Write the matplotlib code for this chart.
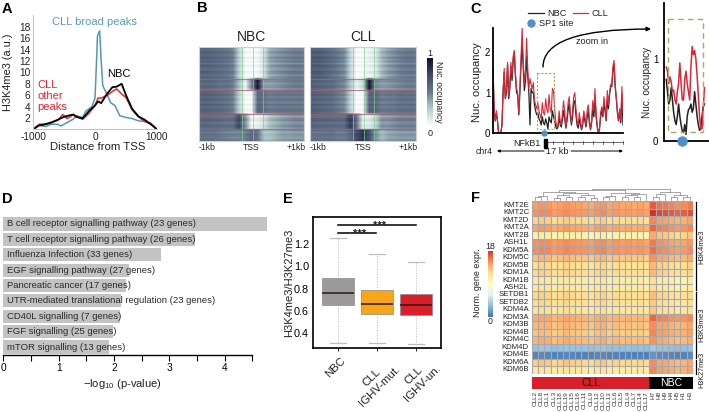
#!/usr/bin/env python
# -*- coding: utf-8 -*-
import numpy as np
import matplotlib
matplotlib.use('Agg')
import matplotlib.pyplot as plt
from matplotlib.colors import LinearSegmentedColormap
from matplotlib.patches import FancyArrowPatch, Rectangle

# --- Data --- #

# A: H3K4me3 profiles around the TSS
a_blue_x = [-1000,-950,-900,-800,-700,-600,-550,-450,-350,-300,-200,-150,-50,0,25,40,75,100,125,200,250,320,400,500,600,700,800,900,1000]
a_blue_y = [0,0.5,0.7,0.5,0.9,0.9,0.6,1.2,1.8,2.4,2.1,3.2,4,5.5,12,16.4,17.3,12,7.7,6,4.7,4.2,2.4,2.1,1.9,1.5,1.4,1.1,0]
a_black_x = [-1000,-900,-800,-700,-600,-500,-400,-350,-300,-200,-100,0,50,100,150,200,280,350,430,500,600,700,800,900,1000]
a_black_y = [0,0.7,0.9,1.2,1.7,2.2,2.5,2.6,2.2,1.9,3.2,4.2,4.9,4.6,5.5,6.3,7.4,7.5,8,6,3.6,2.3,1.7,0.9,0]
a_red_x = [-1000,-900,-800,-700,-600,-520,-450,-350,-300,-200,-100,0,50,100,200,300,350,430,500,600,700,800,900,1000]
a_red_y = [0,0.9,0.9,1.3,1.6,2.6,1.9,2.6,2.3,1.8,2.8,4.2,5.5,5.5,6,6.8,7.1,6.2,5.6,3.4,2.2,1.4,1.0,0]

# B: heatmap blocks, one column profile per block (0 white, 1 dark)
b_block_rows = [16, 6, 12, 8, 6]
b_nbc = [
    [.62,.62,.60,.58,.55,.50,.24,.04,.02,.04,.16,.38,.42,.45,.48,.50,.50],
    [.60,.60,.58,.55,.55,.50,.30,.06,.45,.95,.40,.40,.42,.45,.48,.50,.50],
    [.62,.62,.60,.58,.55,.50,.24,.03,.03,.60,.55,.50,.52,.52,.52,.52,.52],
    [.60,.60,.58,.58,.55,.55,.75,.45,.06,.08,.16,.30,.35,.40,.42,.45,.45],
    [.55,.55,.55,.52,.50,.48,.48,.50,.60,.55,.30,.30,.35,.40,.40,.42,.42],
]
b_cll = [
    [.66,.66,.62,.58,.52,.46,.22,.02,.02,.08,.12,.32,.40,.45,.50,.52,.52],
    [.64,.62,.60,.58,.52,.46,.28,.08,.20,.98,.45,.40,.42,.45,.48,.50,.50],
    [.64,.62,.60,.58,.52,.46,.24,.01,.03,.62,.60,.50,.52,.52,.55,.55,.55],
    [.62,.60,.60,.58,.58,.58,.80,.55,.08,.12,.22,.42,.42,.45,.48,.48,.48],
    [.55,.55,.55,.55,.52,.52,.60,.75,.85,.72,.45,.32,.38,.40,.42,.42,.42],
]
b_streak = [.02,-.05,.04,.0,-.03,.06,-.02,.03,-.06,.05,.0,-.04,.04,.02,-.05,.03,-.02,
            .05,-.03,.0,.04,-.06,.02,-.02,.05,-.04,.03,.0,-.05,.06,-.03,.02,.04,-.02,
            .03,-.06,.02,.05,-.04,.0,.04,-.03,.05,-.05,.02,.0,-.03,.04]

# C: nucleosome occupancy, whole locus
c_cll = [1.65,0.6,0.3,0.55,0.3,0,0,0,0.2,1.05,1.6,0.85,1.1,1.75,0.9,1.2,1.75,1.4,1.9,2.05,
         1.5,1.1,1.0,0.5,1.15,1.9,2.6,1.8,1.2,1.55,2.35,1.6,1.1,1.35,1.2,1.1,1.25,0.8,0.7,0.6,
         0.75,0.55,0.45,0.35,0.75,0.5,0.45,0.85,0.6,0.5,0.95,0.6,0.5,1.1,1.05,0.6,0.3,0.15,0.2,0.55,
         0.3,0.2,0.5,0.8,0.5,0.15,0.4,0.75,0.9,0.5,0.25,0.55,0.9,1.0,0.6,0.3,0.2,0.5,0.3,0.1,
         0.25,0.55,0.4,0.2,0.55,0.7,0.35,0.1,0.3,0.8,0.55,1.1,0.5,0.2,0,0.1,0.5,0.65,0.45,0.9,
         0.65,0.35,1.05,0.7,1.0,1.2,1.2,1.65,1.8,1.2,0.9,0.55,0.3,0.6,0.3,1.15,0.5]
c_nbc = [1.6,0.55,0.3,0.5,0.3,0,0,0,0.2,1.0,1.5,0.85,1.0,1.7,0.85,1.1,1.65,1.3,1.8,2.0,
         1.4,1.0,0.95,0.45,1.0,1.7,2.2,1.6,1.05,1.3,1.9,1.4,1.0,0.2,1.1,1.0,1.0,0.7,0.55,0.45,
         0.5,0.35,0.3,0.2,0.4,0.25,0.2,0.35,0.25,0.1,0.4,0.3,0.25,0.55,0.4,0.3,0.15,0.1,0.15,0.4,
         0.2,0.15,0.35,0.55,0.35,0.12,0.3,0.55,0.75,0.4,0.2,0.4,0.75,0.8,0.45,0.2,0.12,0.35,0.2,0.08,
         0.2,0.45,0.3,0.15,0.4,0.55,0.25,0.08,0.25,0.6,0.4,0.85,0.4,0.15,0,0.08,0.4,0.55,0.4,0.75,
         0.55,0.3,0.85,0.6,0.95,1.15,1.15,1.55,1.7,1.15,0.85,0.5,0.3,0.55,0.25,0.95,0.2]

# C: zoomed region
z_cll = [0.9,0.85,0.7,0.78,0.72,0.6,0.62,0.5,0.45,0.6,0.7,0.95,0.7,0.5,0.5,0.75,0.85,0.7,0.6,0.5,
         0.9,1.15,1.05,1.1,1.0,0.8,0.55,0.3,0.15,0.15,0.4,0.65]
z_nbc = [0.75,0.6,0.45,0.5,0.65,0.5,0.35,0.25,0.2,0.3,0.45,0.3,0.2,0.12,0.1,0.2,0.08,0.3,0.38,0.4,
         0.45,0.35,0.4,0.6,0.45,0.3,0.2,0.13,0.15,0.3,0.42,0.45]

# D: pathway enrichment
d_labels = ['B cell receptor signalling pathway (23 genes)',
            'T cell receptor signalling pathway (26 genes)',
            'Influenza Infection (33 genes)',
            'EGF signalling pathway (27 genes)',
            'Pancreatic cancer (17 genes)',
            'UTR-mediated translational regulation (23 genes)',
            'CD40L signalling (7 genes)',
            'FGF signalling (25 genes)',
            'mTOR signalling (13 genes)']
d_values = [4.76, 3.46, 2.86, 2.27, 2.22, 2.12, 2.11, 1.99, 1.91]

# E: box plot statistics
e_labels = ['NBC', 'CLL\nIGHV-mut.', 'CLL\nIGHV-un.']
e_low = [0.31, 0.31, 0.30]
e_q1 = [0.65, 0.575, 0.565]
e_med = [0.76, 0.665, 0.65]
e_q3 = [0.89, 0.79, 0.75]
e_high = [1.25, 1.11, 1.035]
e_colors = ['#9a9a9a', '#f9a51a', '#d81f2a']

# F: normalised expression per gene
f_genes = ['KMT2E','KMT2C','KMT2D','KMT2A','KMT2B','ASH1L','KDM5A','KDM5C','KDM5B','KDM1A','KDM1B','ASH2L',
           'SETDB1','SETDB2','KDM4A','KDM3A','KDM3B','KDM4B','KDM4C','KDM4D','KDM4E','KDM6A','KDM6B']
f_samples = ['CLL2','CLL8','CLL1','CLL3','CLL18','CLL19','CLL15','CLL16','CLL11','CLL9','CLL12','CLL10','CLL13',
             'CLL6','CLL5','CLL4','CLL7','CLL14','CLL17','H7','H8','H9','H4','H5','H1','H3']
f_cll_level = [14.2,14.6,12.2,14.0,10.2,14.6,14.8,13.0,11.8,12.0,10.8,11.0,
               12.0,11.8,11.4,13.6,13.2,12.8,13.4,3.2,0.6,12.4,11.0]
f_nbc_level = [15.4,16.8,14.0,15.0,12.6,14.4,14.8,13.6,12.2,12.2,10.6,10.8,
               12.0,11.6,11.6,15.0,13.8,14.0,13.6,3.2,0.8,13.8,14.0]
f_cll_shift = [0.2,0.5,0.4,-0.2,0.1,0.5,0.2,0.0,-0.1,-0.3,0.3,0.5,-0.2,0.1,-0.2,0.0,-0.3,-0.1,-0.4]
f_nbc_shift = [1.2,0.4,0.2,-0.2,-0.5,-0.3,0.2]


# --- Helpers --- #

W, H = 709, 412
plt.rcParams['font.family'] = ['Liberation Sans', 'DejaVu Sans']
plt.rcParams['mathtext.fontset'] = 'custom'
plt.rcParams['mathtext.rm'] = 'Liberation Sans'
plt.rcParams['text.color'] = '#222222'
plt.rcParams['axes.unicode_minus'] = False
fig = plt.figure(figsize=(W/100, H/100), dpi=100)

def pxAxes(left, top, right, bottom):
    return fig.add_axes([left/W, 1-bottom/H, (right-left)/W, (bottom-top)/H])

# full figure overlay in pixel coordinates, for notes and decorations
over = fig.add_axes([0, 0, 1, 1], zorder=10)
over.set_xlim(0, W)
over.set_ylim(H, 0)
over.axis('off')

def note(x, y, s, size=7, ha='center', va='center', **kw):
    over.text(x, y, s, fontsize=size, ha=ha, va=va, **kw)

for letter, lx, ly in [('A',7,9), ('B',202,8), ('C',476,9), ('D',7,199), ('E',288,199), ('F',475,198)]:
    note(lx, ly, letter, size=10.5, fontweight='bold', color='black')


# --- A --- #

ax = pxAxes(33, 15.4, 157, 129.4)
ax.plot(a_blue_x, a_blue_y, color='#5596b5', lw=1.1)
ax.plot(a_red_x, a_red_y, color='#e2363e', lw=1.2)
ax.plot(a_black_x, a_black_y, color='black', lw=1.3)
ax.set_xlim(-1000, 1000)
ax.set_ylim(0, 20)
ax.set_yticks(range(2, 20, 2))
ax.set_xticks([-1000, 0, 1000])
ax.tick_params(length=0, labelsize=7.3, pad=2, colors='#222222')
ax.spines[['top', 'right']].set_visible(False)
ax.spines[['left', 'bottom']].set_color('#c4c4c4')
ax.patch.set_alpha(0)
note(8, 72, 'H3K4me3 (a.u.)', size=7.9, rotation=90)
note(98, 147, 'Distance from TSS', size=8.2)
note(94, 22, 'CLL broad peaks', size=8, color='#5a9ab8')
note(119, 74, 'NBC', size=8, color='black')
note(37, 96, 'CLL\nother\npeaks', size=8, color='#e2262e', ha='left', linespacing=1.15)


# --- B --- #

b_cmap = LinearSegmentedColormap.from_list('nuc', ['#ffffff', '#b8d2cf', '#6b7b8f', '#414c6a', '#10102a'])

def blockMatrix(blocks):
    rows = []
    for prof, n in zip(blocks, b_block_rows):
        rows += [prof]*n
    return np.array(rows) + np.array(b_streak)[:, None]

for blocks, l, r, title in [(b_nbc, 199, 304, 'NBC'), (b_cll, 310, 416, 'CLL')]:
    ax = pxAxes(l, 47, r, 141)
    ax.imshow(blockMatrix(blocks), aspect='auto', cmap=b_cmap, vmin=0, vmax=1,
              interpolation='bilinear', extent=[0, 1, 1, 0])
    for fx in [0.41, 0.51, 0.605]:
        ax.axvline(fx, color='#7ccf90', lw=0.6, alpha=0.8)
    for fy in [0.343, 0.459, 0.717, 0.873]:
        ax.axhline(fy, color='#a8606e', lw=0.8, alpha=0.75)
    ax.set_xticks([])
    ax.set_yticks([])
    for s in ax.spines.values():
        s.set_color('#d0d0d0')
    mid = (l + r)/2
    note(mid, 37, title, size=10)
    note(l + 8, 148, '-1kb', size=6.2)
    note(mid, 148, 'TSS', size=6.2)
    note(r - 8, 148, '+1kb', size=6.2)

ax = pxAxes(427, 58, 433, 127)
ax.imshow(np.linspace(1, 0, 100)[:, None], aspect='auto', cmap=b_cmap, vmin=0, vmax=1)
ax.axis('off')
note(430, 53, '1', size=6.5)
note(430, 133, '0', size=6.5)
note(439, 92, 'Nuc. occupancy', size=6.2, rotation=270)


# --- C --- #

ax = pxAxes(493, 28, 623, 133)
ax.plot(np.linspace(0, 17, len(c_nbc)), c_nbc, color='#222222', lw=0.9)
ax.plot(np.linspace(0, 17, len(c_cll)), c_cll, color='#d8293a', lw=0.8)
ax.set_xlim(0, 17)
ax.set_ylim(0, 2.6)
ax.set_yticks([0, 1, 2])
ax.set_xticks([])
ax.tick_params(length=0, labelsize=7, pad=2)
ax.spines[['top', 'right']].set_visible(False)
ax.spines[['left', 'bottom']].set_linewidth(1.3)
ax.patch.set_alpha(0)
note(477, 82, 'Nuc. occupancy', size=8, rotation=90)

ax = pxAxes(664, 3, 709, 141)
ax.plot(np.linspace(0.05, 0.9, len(z_nbc)), z_nbc, color='#222222', lw=1.1)
ax.plot(np.linspace(0.05, 0.9, len(z_cll)), z_cll, color='#d8293a', lw=1.1)
ax.set_xlim(0, 1)
ax.set_ylim(0, 1.68)
ax.set_yticks([0, 1])
ax.set_xticks([])
ax.tick_params(length=0, labelsize=7, pad=4)
ax.spines[['top', 'right']].set_visible(False)
ax.spines[['left', 'bottom']].set_linewidth(1.3)
ax.patch.set_alpha(0)
note(647, 82, 'Nuc. occupancy', size=7.2, rotation=90)

box_col = '#a8a868'
over.add_patch(Rectangle((537, 73), 17, 56, fill=False, ec=box_col, ls=(0, (2, 1.5)), lw=0.8))
over.add_patch(Rectangle((668, 19), 34.5, 113, fill=False, ec=box_col, ls=(0, (4, 3)), lw=1.0))
over.plot([543.5], [133], 'o', color='#4f8fcb', ms=3.6, clip_on=False)
over.plot([682], [141], 'o', color='#4f8fcb', ms=6.5, clip_on=False)

over.plot([528, 544], [13, 13], color='#222222', lw=0.9)
note(547, 13, 'NBC', size=6.6, ha='left')
over.plot([573, 588], [13, 13], color='#d8293a', lw=0.9)
note(592, 13, 'CLL', size=6.6, ha='left')
over.plot([531], [23], 'o', color='#4f8fcb', ms=5)
note(539, 23, 'SP1 site', size=6.6, ha='left')
note(592, 41, 'zoom in', size=6.6)
over.add_patch(FancyArrowPatch((543, 67), (651, 29), connectionstyle='angle3,angleA=90,angleB=0',
                               arrowstyle='-|>', mutation_scale=6, color='black', lw=1.0, shrinkA=0, shrinkB=0))

note(527, 143, 'NFkB1', size=6.4, ha='center')
over.add_patch(Rectangle((544, 139), 3, 9, color='black'))
over.plot([547, 623], [142, 142], color='#333333', lw=0.5)
for tx in range(553, 624, 10):
    over.plot([tx, tx], [140.5, 143.5], color='#333333', lw=0.5)
note(484, 151, 'chr4', size=6.2)
note(557, 151, '17 kb', size=6.6)
for x0, x1 in [(544, 497), (571, 623)]:
    over.add_patch(FancyArrowPatch((x0, 151), (x1, 151), arrowstyle='-|>', mutation_scale=4,
                                   color='black', lw=0.7, shrinkA=0, shrinkB=0))


# --- D --- #

ax = pxAxes(3.3, 216, 268, 355)
ypos = np.arange(len(d_values))
ax.barh(ypos, d_values, height=0.85, color='#c3c3c3')
for yy, lab in zip(ypos, d_labels):
    ax.text(0.06, yy, lab, fontsize=6.8, va='center', ha='left', color='#2a2a2a')
ax.set_ylim(8.52, -0.52)
ax.set_xlim(0, 4.786)
ax.set_yticks([])
ax.set_xticks(range(5))
ax.set_xticks(np.arange(0.5, 4.6, 1), minor=True)
ax.tick_params(which='both', length=4, width=0.8, labelsize=7.3, pad=1.5)
ax.spines[['top', 'right', 'left']].set_visible(False)
ax.spines['bottom'].set_linewidth(1.0)
ax.spines['bottom'].set_bounds(0, 4.5)
ax.patch.set_alpha(0)
note(122, 384, r'$-\mathrm{log}_{10}$ (p-value)', size=8)


# --- E --- #

ax = pxAxes(313, 217, 441, 348)
stats = []
for i in range(3):
    stats.append(dict(whislo=e_low[i], q1=e_q1[i], med=e_med[i], q3=e_q3[i], whishi=e_high[i], fliers=[]))
bp = ax.bxp(stats, positions=[1, 2, 3], widths=0.81, patch_artist=True, showfliers=False,
            medianprops=dict(color='#2a1a10', lw=1.1),
            whiskerprops=dict(color='#b5b5b5', lw=0.7, ls=':'),
            capprops=dict(color='#bdbdbd', lw=0.9),
            boxprops=dict(edgecolor='#8a8a8a', lw=0.5))
for patch, col in zip(bp['boxes'], e_colors):
    patch.set_facecolor(col)
ax.plot([1, 1.98], [1.30, 1.30], color='black', lw=1.1)
ax.plot([1, 2.98], [1.37, 1.37], color='black', lw=1.1)
ax.text(1.54, 1.295, '***', ha='center', va='center', fontsize=8, fontweight='bold')
ax.text(2.06, 1.365, '***', ha='center', va='center', fontsize=8, fontweight='bold')
ax.set_xlim(0.362, 3.63)
ax.set_ylim(0.265, 1.443)
ax.set_yticks([0.4, 0.6, 0.8, 1.0, 1.2])
ax.set_xticks([1, 2, 3])
ax.set_xticklabels([])
ax.tick_params(axis='y', length=0, labelsize=7.8, pad=3)
ax.tick_params(axis='x', length=2, width=0.6)
for s in ax.spines.values():
    s.set_linewidth(1.2)
note(289, 283, 'H3K4me3/H3K27me3', size=8, rotation=90)
for cx, lab in zip([340, 387, 427], e_labels):
    note(cx, 355, lab, size=8.2, rotation=45, ha='right', va='top', rotation_mode='anchor', linespacing=1.25, multialignment='center')


# --- F --- #

f_cmap = LinearSegmentedColormap.from_list('expr', ['#4575b4', '#91bfdb', '#e0f3f8', '#ffffbf', '#fee090', '#fc8d59', '#d73027'])
matrix = np.zeros((len(f_genes), len(f_samples)))
for g in range(len(f_genes)):
    scale = 0.35 if g in (19, 20) else 1.0
    matrix[g, :19] = f_cll_level[g] + scale*np.array(f_cll_shift)
    matrix[g, 19:] = f_nbc_level[g] + scale*np.array(f_nbc_shift)

hx0, hx1, hy0, hy1 = 532, 692.7, 201.3, 373.7
ax = pxAxes(hx0, hy0, hx1, hy1)
ax.imshow(matrix, cmap=f_cmap, vmin=0, vmax=18, aspect='auto', interpolation='nearest',
          extent=[0, len(f_samples), len(f_genes), 0])
ax.vlines(range(len(f_samples)+1), 0, len(f_genes), color='#a8a8a8', lw=0.8)
ax.hlines(range(len(f_genes)+1), 0, len(f_samples), color='#a8a8a8', lw=0.8)
ax.set_ylim(len(f_genes), 0)
ax.set_xlim(0, len(f_samples))
ax.axis('off')
row_h = (hy1 - hy0)/len(f_genes)
col_w = (hx1 - hx0)/len(f_samples)
for g, name in enumerate(f_genes):
    note(529, hy0 + (g + 0.5)*row_h, name, size=5.6, ha='right')
for c, name in enumerate(f_samples):
    note(hx0 + (c + 0.5)*col_w, 391, name, size=4.6, rotation=90, va='top', color='#333333')

# group bar
ax = pxAxes(hx0, 376.7, hx1, 388.7)
ax.barh([0], [19], left=[0], height=1, color='#d81f2a')
ax.barh([0], [7], left=[19], height=1, color='black')
ax.text(9.5, 0, 'CLL', ha='center', va='center', fontsize=7.6, color='#3a1010')
ax.text(22.5, 0, 'NBC', ha='center', va='center', fontsize=7.6, color='white')
ax.set_xlim(0, 26)
ax.set_ylim(-0.5, 0.5)
ax.axis('off')

# column dendrogram, col index or (x, height) as children
def merge(a, b, h):
    pts = []
    for child in (a, b):
        if isinstance(child, tuple):
            pts.append(child)
        else:
            pts.append((hx0 + (child + 0.5)*col_w, 0))
    base = 200
    (xa, ha), (xb, hb) = pts
    over.plot([xa, xa, xb, xb], [base-ha, base-h, base-h, base-hb], color='#777777', lw=0.45)
    return ((xa + xb)/2, h)

n1 = merge(merge(0, 1, 3), 2, 4)
n2 = merge(merge(3, 4, 2.5), merge(5, 6, 3), 5)
n3 = merge(merge(7, 8, 3), merge(9, 10, 2.5), 5.5)
n4 = merge(merge(11, 12, 3), 13, 4.5)
n5 = merge(merge(14, 15, 3), merge(16, 17, 3.5), 5.5)
n6 = merge(n2, n3, 7.5)
n7 = merge(n1, n6, 8.5)
n8 = merge(n4, merge(n5, 18, 6.5), 7.5)
cll_top = merge(n7, n8, 10)
n9 = merge(merge(19, 20, 3.5), 21, 6)
n10 = merge(merge(22, 23, 3), merge(24, 25, 3.5), 5)
nbc_top = merge(n9, n10, 8)
merge(cll_top, nbc_top, 11)

# mark groups on the right
for y0, y1, lab, ly, sz in [(201.5, 290, 'H3K4me3', 247, 5.6), (292, 358, 'H3K9me3', 325, 5.6), (360, 373.5, 'H3K27me3', 370, 5.2)]:
    over.plot([695.7, 695.7], [y0, y1], color='black', lw=0.9)
    note(702, ly, lab, size=sz, rotation=90)

ax = pxAxes(488, 251, 492.5, 317)
ax.imshow(np.linspace(18, 0, 100)[:, None], aspect='auto', cmap=f_cmap, vmin=0, vmax=18)
ax.axis('off')
note(490, 246, '18', size=6.3)
note(490, 321, '0', size=6.3)
note(478, 283, 'Norm. gene expr.', size=6.4, rotation=90)

plt.savefig('out.png', dpi=100)
